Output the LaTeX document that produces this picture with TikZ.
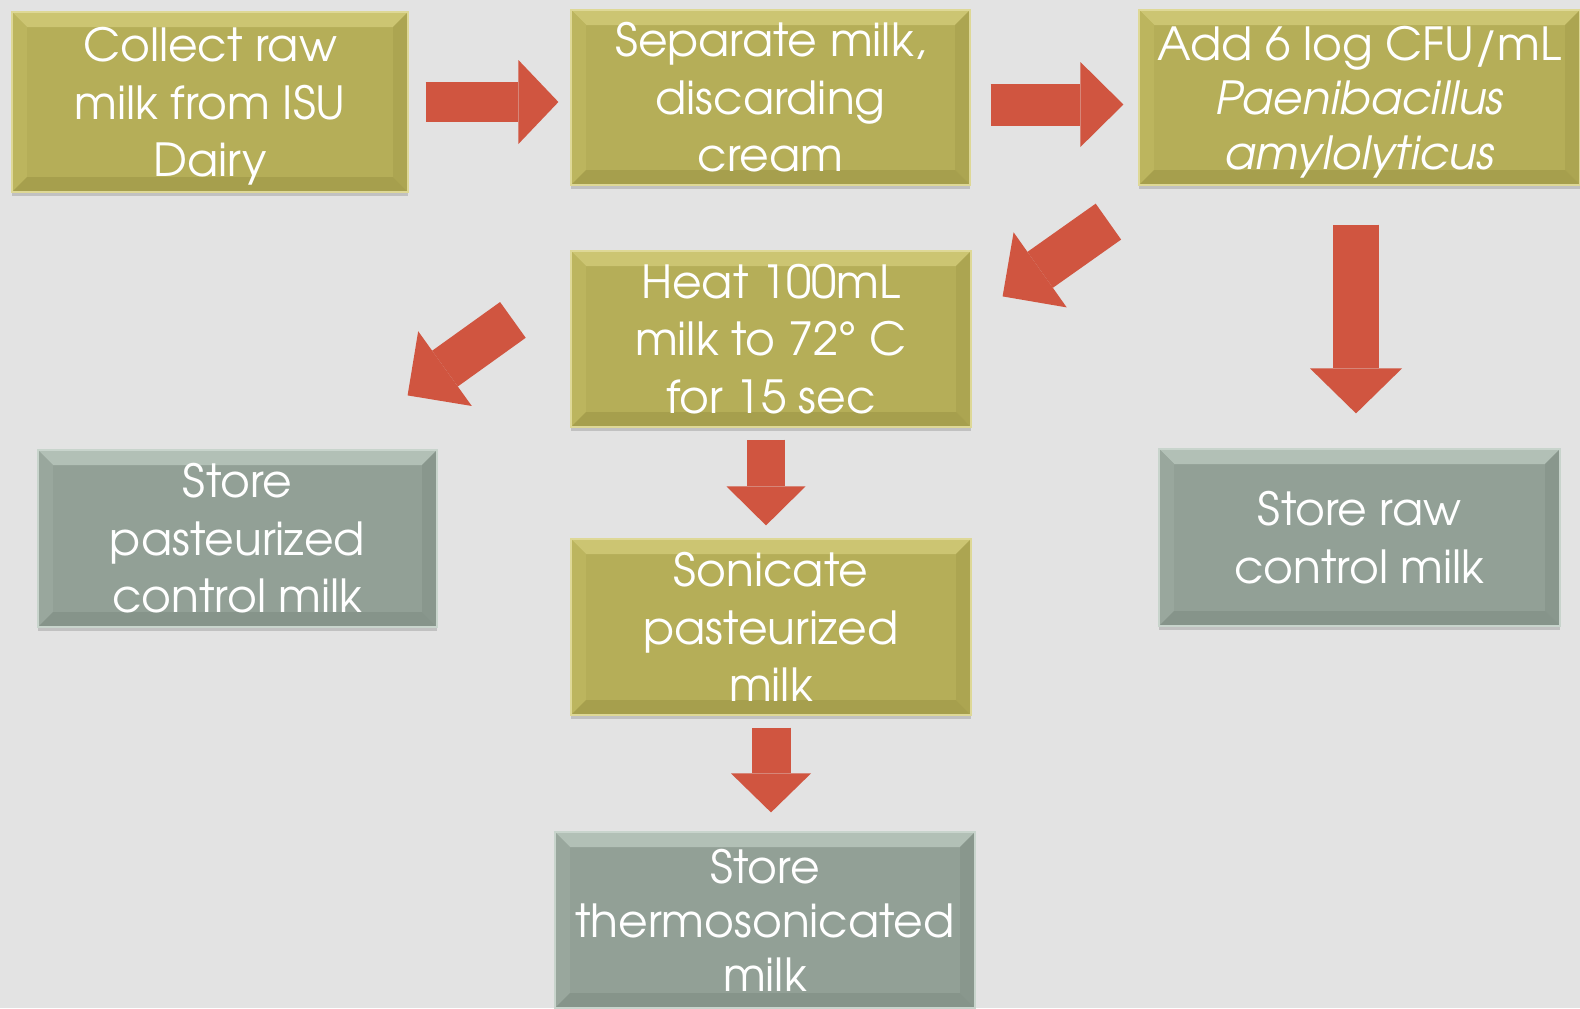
\documentclass[tikz,border=0pt]{standalone}
\usepackage{fontspec}
\setmainfont{TeX Gyre Adventor}
\usetikzlibrary{arrows.meta,shadows,calc}
\definecolor{bgc}{RGB}{227,227,227}
\definecolor{arrowred}{RGB}{208,85,64}
\definecolor{goldface}{RGB}{181,174,88}
\definecolor{goldtop}{RGB}{204,197,114}
\definecolor{goldleft}{RGB}{188,181,94}
\definecolor{goldright}{RGB}{172,165,81}
\definecolor{goldbot}{RGB}{166,159,77}
\definecolor{goldedge}{RGB}{222,216,150}
\definecolor{grayface}{RGB}{146,160,150}
\definecolor{graytop}{RGB}{178,192,182}
\definecolor{grayleft}{RGB}{153,167,157}
\definecolor{grayright}{RGB}{137,151,141}
\definecolor{graybot}{RGB}{134,148,138}
\definecolor{grayedge}{RGB}{200,212,204}
\newcommand\bevelfill[4]{%
 \coordinate (bNW) at (path picture bounding box.north west);
 \coordinate (bNE) at (path picture bounding box.north east);
 \coordinate (bSW) at (path picture bounding box.south west);
 \coordinate (bSE) at (path picture bounding box.south east);
 \coordinate (iNW) at ([shift={(7.5pt,-7.5pt)}]bNW);
 \coordinate (iNE) at ([shift={(-7.5pt,-7.5pt)}]bNE);
 \coordinate (iSW) at ([shift={(7.5pt,7.5pt)}]bSW);
 \coordinate (iSE) at ([shift={(-7.5pt,7.5pt)}]bSE);
 \fill[#1] (bNW) -- (bNE) -- (iNE) -- (iNW) -- cycle;
 \fill[#2] (bNW) -- (iNW) -- (iSW) -- (bSW) -- cycle;
 \fill[#3] (bNE) -- (iNE) -- (iSE) -- (bSE) -- cycle;
 \fill[#4] (bSW) -- (iSW) -- (iSE) -- (bSE) -- cycle;
}
\tikzset{
 basebox/.style={rectangle, inner sep=0pt, text=white, align=center,
   font=\fontsize{22.8}{28.7}\selectfont, line width=0.6pt,
   drop shadow={shadow xshift=0pt, shadow yshift=-2pt, opacity=0.15, fill=black}},
 goldbox/.style={basebox, fill=goldface, draw=goldedge,
   path picture={\bevelfill{goldtop}{goldleft}{goldright}{goldbot}}},
 graybox/.style={basebox, fill=grayface, draw=grayedge,
   path picture={\bevelfill{graytop}{grayleft}{grayright}{graybot}}},
 fatarrow/.style={draw=arrowred, line cap=butt}
}
\begin{document}
\begin{tikzpicture}[x=0.5pt,y=-0.5pt]
\fill[bgc] (0,0) rectangle (1580,1008);
\useasboundingbox (0,0) rectangle (1580,1008);

\node[goldbox, minimum width=198pt, minimum height=90pt] (collect) at (210,102) {Collect raw\\milk from ISU\\\smash{Dairy}};
\node[goldbox, minimum width=199.5pt, minimum height=87.5pt] (separate) at (770.5,97.5) {Separate milk,\\discarding\\cream};
\node[goldbox, minimum width=220.5pt, minimum height=87.5pt, font=\fontsize{22.8}{27.2}\selectfont] (add) at (1359.5,97.5) {Add 6 log CFU/mL\\\itshape Paenibacillus\\\itshape \smash{amylolyticus}};
\node[goldbox, minimum width=200pt, minimum height=88pt] (heat) at (771,339) {Heat 100mL\\milk to 72° C\\for 15 sec};
\node[graybox, minimum width=199.5pt, minimum height=88.5pt] (storepast) at (237.5,538.5) {Store\\pasteurized\\control milk};
\node[goldbox, minimum width=200pt, minimum height=88pt] (sonicate) at (771,627) {Sonicate\\pasteurized\\milk};
\node[graybox, minimum width=210pt, minimum height=88pt, font=\fontsize{22.8}{27}\selectfont] (thermo) at (765,920) {Store\\thermosonicated\\milk};
\node[graybox, minimum width=200.5pt, minimum height=88.5pt] (storeraw) at (1359.5,537.5) {Store raw\\control milk};

\draw[fatarrow, line width=20pt, -{Triangle[width=42pt,length=20pt,line width=0pt]},
  shorten <=8.5pt, shorten >=6pt] (collect.east) -- (collect.east -| separate.west);
\draw[fatarrow, line width=21pt, -{Triangle[width=42.5pt,length=21.5pt,line width=0pt]},
  shorten <=10pt, shorten >=7.5pt] ([yshift=-3.5pt]separate.east) -- ([yshift=-3.5pt]separate.east -| add.west);
\draw[fatarrow, line width=22pt, -{Triangle[width=46pt,length=23pt,line width=0pt]}]
  ([shift={(-15pt,-18pt)}]add.south west) -- ([shift={(15.5pt,-23pt)}]heat.north east);
\draw[fatarrow, line width=22pt, -{Triangle[width=46pt,length=23pt,line width=0pt]}]
  ([shift={(-28.75pt,-34.75pt)}]heat.north west) -- ([shift={(-15pt,27pt)}]storepast.north east);
\draw[fatarrow, line width=19pt, -{Triangle[width=39.5pt,length=19.5pt,line width=0pt]},
  shorten <=6pt, shorten >=6.5pt] ([xshift=-2.5pt]heat.south) -- ([xshift=-2.5pt]sonicate.north);
\draw[fatarrow, line width=19.5pt, -{Triangle[width=40pt,length=19.5pt,line width=0pt]},
  shorten <=6pt, shorten >=9.5pt] (sonicate.south) -- (sonicate.south |- thermo.north);
\draw[fatarrow, line width=23pt, -{Triangle[width=46pt,length=22.5pt,line width=0pt]},
  shorten <=19.5pt, shorten >=17.5pt] ([xshift=-1.75pt]add.south) -- ([xshift=-1.75pt]storeraw.north);
\end{tikzpicture}
\end{document}
